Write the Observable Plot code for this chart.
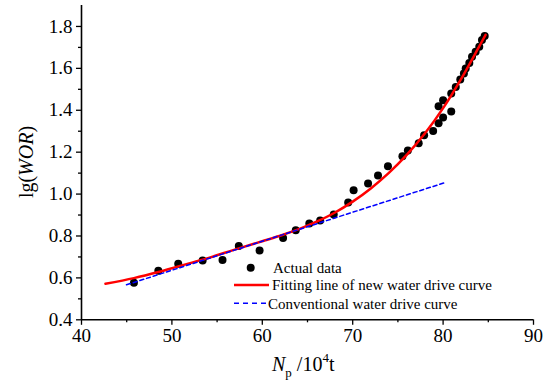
<!DOCTYPE html>
<html>
<head>
<meta charset="utf-8">
<script src="https://cdn.jsdelivr.net/npm/d3@7"></script>
<script src="https://cdn.jsdelivr.net/npm/@observablehq/plot@0.6"></script>
<style>
  html, body { margin: 0; padding: 0; background: #fff; }
  #chart svg { display: block; }
  #chart svg text, #chart svg g { font-family: 'Liberation Serif', 'Times New Roman', serif !important; }
</style>
</head>
<body>
<div id="chart"></div>
<script>
// Actual data: Np (10^4 t) and lg(WOR)
const npActual = [45.8, 48.5, 50.7, 53.4, 55.6, 57.4, 59.7, 62.3, 63.7, 65.2, 66.4, 67.9, 69.5, 70.1, 71.7, 72.8, 73.9, 75.5, 76.1, 77.3, 77.9, 78.9, 79.5, 80.0, 80.9, 79.5, 80.0, 80.9, 81.4, 81.9, 82.3, 82.5, 82.9, 83.2, 83.6, 84.0, 84.3, 84.6];
const lgActual = [0.577, 0.634, 0.668, 0.683, 0.685, 0.752, 0.731, 0.790, 0.827, 0.860, 0.874, 0.902, 0.960, 1.018, 1.050, 1.089, 1.133, 1.180, 1.208, 1.243, 1.281, 1.301, 1.338, 1.365, 1.394, 1.419, 1.448, 1.480, 1.511, 1.547, 1.575, 1.599, 1.626, 1.655, 1.679, 1.703, 1.735, 1.755];

// Fitting line of new water drive curve
const npFit = [42.65, 45.8, 48.5, 50.7, 53.4, 57.4, 60.0, 62.3, 64.2, 66.0, 68.0, 70.0, 72.0, 74.0, 76.0, 78.0, 80.0, 82.0, 84.0, 84.7];
const lgFit = [0.572, 0.599, 0.628, 0.655, 0.687, 0.741, 0.775, 0.806, 0.835, 0.868, 0.911, 0.964, 1.027, 1.101, 1.188, 1.290, 1.410, 1.550, 1.705, 1.760];

// Conventional water drive curve
const npConv = [44.98, 80.08];
const lgConv = [0.567, 1.053];

// Ticks
const xTicks = [40, 50, 60, 70, 80, 90];
const xMinor = [45, 55, 65, 75, 85];
const yTicks = [0.4, 0.6, 0.8, 1.0, 1.2, 1.4, 1.6, 1.8];
const yMinor = [0.5, 0.7, 0.9, 1.1, 1.3, 1.5, 1.7];

// Legend labels
const legendLabels = ["Actual data", "Fitting line of new water drive curve", "Conventional water drive curve"];

const actual = npActual.map((x, i) => ({x, y: lgActual[i]}));
const fit = npFit.map((x, i) => ({x, y: lgFit[i]}));
const conv = npConv.map((x, i) => ({x, y: lgConv[i]}));

const font = "'Liberation Serif', 'Times New Roman', serif";

const chart = Plot.plot({
  width: 553,
  height: 387,
  marginLeft: 81,
  marginRight: 20,
  marginTop: 5,
  marginBottom: 67.7,
  style: {fontFamily: font, fontSize: "19px", color: "#000", background: "#fff"},
  x: {domain: [40, 90]},
  y: {domain: [0.4, 1.9]},
  marks: [
    Plot.axisX({ticks: xTicks, tickSize: 5.5, tickPadding: 3, tickFormat: d => String(d), label: null, fontSize: 19, strokeWidth: 1.3}),
    Plot.axisX({ticks: xMinor, tickSize: 3, text: null, label: null, strokeWidth: 1.3}),
    Plot.axisY({ticks: yTicks, tickSize: 5, tickPadding: 4, tickFormat: d => d.toFixed(1), label: null, fontSize: 19, strokeWidth: 1.3}),
    Plot.axisY({ticks: yMinor, tickSize: 3, text: null, label: null, strokeWidth: 1.3}),
    Plot.ruleY([0.4], {stroke: "#000", strokeWidth: 1.6}),
    Plot.ruleX([40], {stroke: "#000", strokeWidth: 1.6}),
    Plot.dot(actual, {x: "x", y: "y", r: 4, fill: "#000", stroke: "none"}),
    Plot.line(fit, {x: "x", y: "y", stroke: "#ff0000", strokeWidth: 2.5, curve: "catmull-rom"}),
    Plot.line(conv, {x: "x", y: "y", stroke: "#0000ff", strokeWidth: 1.5, strokeDasharray: "4,3"})
  ]
});

document.getElementById("chart").appendChild(chart);

const svg = d3.select(chart);

// Y axis label
const yl = svg.append("text")
  .attr("transform", "translate(33,162) rotate(-90)")
  .attr("text-anchor", "middle")
  .attr("font-family", font)
  .attr("font-size", 20)
  .attr("fill", "#000");
yl.append("tspan").text("lg(");
yl.append("tspan").attr("font-style", "italic").text("WOR");
yl.append("tspan").text(")");

// X axis label
const xl = svg.append("text")
  .attr("x", 272)
  .attr("y", 371)
  .attr("text-anchor", "start")
  .attr("font-family", font)
  .attr("font-size", 20)
  .attr("fill", "#000");
xl.append("tspan").attr("font-style", "italic").text("N");
xl.append("tspan").attr("font-size", 13).attr("dy", 6).text("p");
xl.append("tspan").attr("dy", -6).text(" /10");
xl.append("tspan").attr("font-size", 13).attr("dy", -9).text("4");
xl.append("tspan").attr("dy", 9).text("t");

// Legend
const lg = svg.append("g").attr("font-family", font).attr("font-size", 15).attr("fill", "#000").attr("text-anchor", "start");
lg.append("circle").attr("cx", 250.7).attr("cy", 267.7).attr("r", 4).attr("fill", "#000");
lg.append("text").attr("x", 273).attr("y", 267.7).attr("dy", "0.35em").text(legendLabels[0]);
lg.append("line").attr("x1", 234).attr("x2", 269).attr("y1", 285).attr("y2", 285)
  .attr("stroke", "#ff0000").attr("stroke-width", 2.5);
lg.append("text").attr("x", 272).attr("y", 285).attr("dy", "0.35em").text(legendLabels[1]);
lg.append("line").attr("x1", 234).attr("x2", 268).attr("y1", 303.3).attr("y2", 303.3)
  .attr("stroke", "#0000ff").attr("stroke-width", 1.5).attr("stroke-dasharray", "5,4");
lg.append("text").attr("x", 268).attr("y", 303.3).attr("dy", "0.35em").text(legendLabels[2]);
</script>
</body>
</html>
